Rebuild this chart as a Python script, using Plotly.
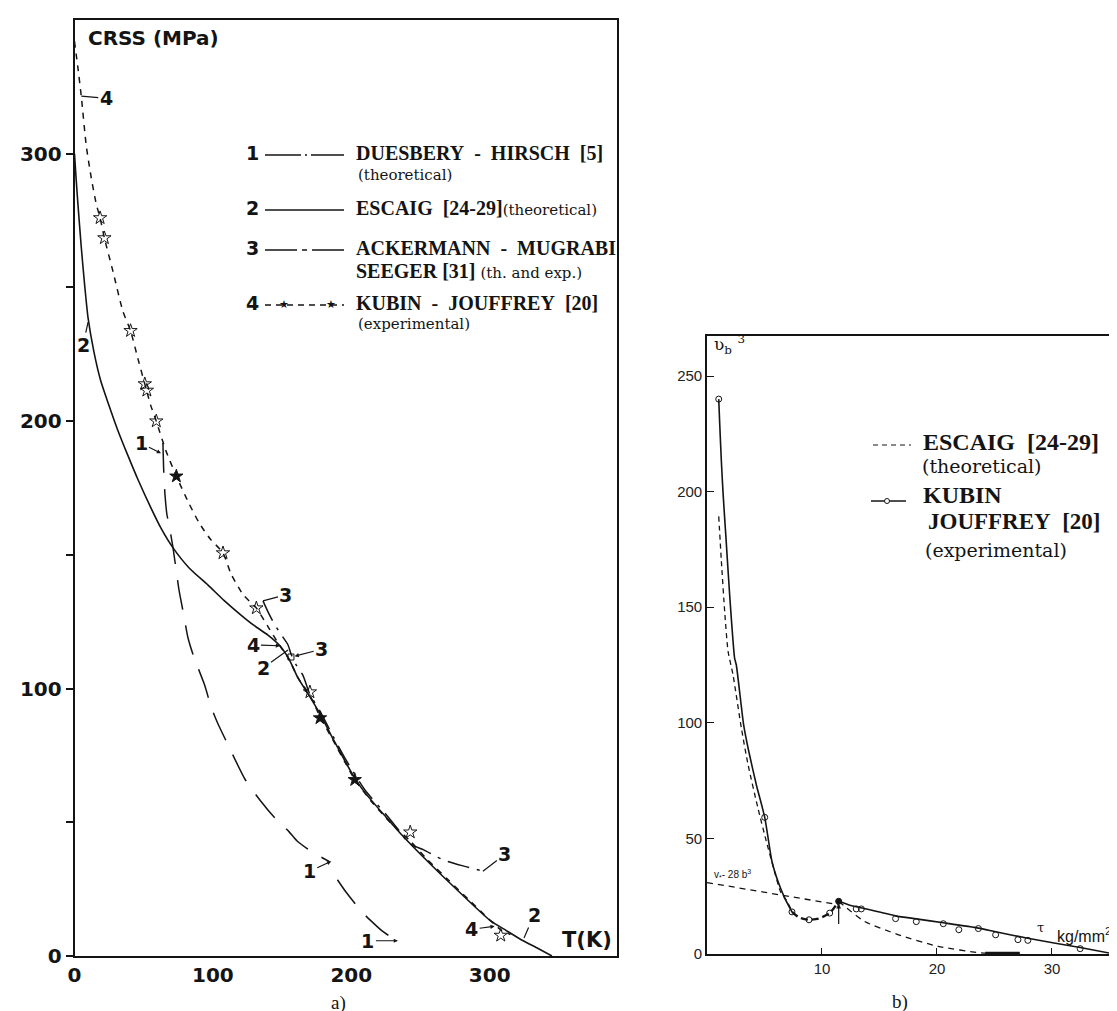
import plotly.graph_objects as go

W, H = 1117, 1011

# ---------------- panel a) data : CRSS (MPa) vs T (K) ----------------
c1a_T = [63.9, 64.5, 65.4, 66.8, 68.3, 71.2, 75.5, 79.1, 82, 86.1, 93.9, 99, 103.4, 112, 123.4, 134.8, 145, 154.8, 161, 172, 184]
c1a_V = [191.8, 181, 172.4, 165, 161.2, 152.6, 136.9, 127.1, 119, 112, 101.5, 92.7, 87.1, 77.8, 65.9, 57.8, 51.5, 46.6, 42.9, 38.8, 35.4]
c1b_T = [190, 196, 202.4, 208, 213.3, 222, 232.7]
c1b_V = [28.5, 24, 19.8, 16.3, 13.6, 9.5, 5.7]

c2_T = [0, 1.0, 2.5, 4.9, 7.4, 9.8, 14, 19, 24.3, 31, 38.7, 46, 55.3, 63, 71.2, 83, 96.5, 108, 120.3, 130, 139.8,
        148.4, 155, 161.5, 170, 178, 187, 195.4, 202.5, 210, 225, 238.6, 252, 265, 283, 301, 312, 322.8, 335, 345]
c2_V = [300, 292, 281, 265, 250.5, 238.6, 226, 215, 206.8, 197, 187, 178, 167.5, 159.5, 152.6, 145, 138.7, 133, 127.5, 123.5, 120,
        116, 111, 104, 97, 90, 81, 73, 66.5, 61, 52, 44.1, 37, 30.4, 21.5, 13, 9.5, 6.1, 2.8, 0]

c3_T = [136.2, 140, 144, 148.5, 154.3, 156.4, 160, 165, 170, 178, 187, 195.4, 210, 225, 237.6, 240, 246, 252, 262, 269, 280, 294.5]
c3_V = [132.8, 128.5, 124.5, 120.8, 116.3, 113, 109, 105, 98, 91, 82, 74, 62, 53, 44.8, 42.8, 41, 39.8, 37, 35.5, 33.8, 31.8]

c4_T = [0, 2.5, 4.9, 8.5, 12.1, 15.8, 18.5, 21.6, 27.8, 35, 40.5, 46, 50.8, 55, 59.1, 66, 73.6, 82, 90, 98, 107.3, 113, 122,
        131.4, 140, 148.4, 155, 161.5, 170.1, 177.4, 187, 195.4, 202.5, 215, 228, 242.6, 255, 270, 285, 296, 308, 315]
c4_V = [342, 332, 321.5, 303, 291, 281, 276, 268.5, 256, 241, 233.8, 223, 213.9, 206, 200, 189, 179.4, 170, 162, 156, 150.7, 143, 135,
        130.1, 123, 116, 111, 104, 97.5, 89.5, 80.5, 72.5, 66, 57.5, 50, 43, 36, 28.5, 21, 15.5, 9.8, 8]

star_open_T = [18.5, 21.6, 40.5, 50.8, 52.3, 59.1, 107.3, 131.4, 170.1, 242.6, 308]
star_open_V = [276, 268.5, 233.8, 213.9, 211.5, 200, 150.7, 130.1, 98.7, 46.3, 7.7]
star_fill_T = [73.6, 177.4, 202.5]
star_fill_V = [179.4, 89, 65.9]
sq_T = [156.4]
sq_V = [111.8]

a_xticks = [0, 100, 200, 300]
a_yticks = [0, 50, 100, 150, 200, 250, 300]
a_yticktext = ["0", "", "100", "", "200", "", "300"]

# ---------------- panel b) data : activation volume vs tau ----------------
kub_up_x = [1.02, 1.1, 1.25, 1.4, 1.65, 1.97, 2.4, 2.55, 3.19, 3.63, 4.3, 5.02, 5.65, 6.2, 6.76, 7.39]
kub_up_y = [240, 230, 213, 199, 180, 155.4, 128, 125, 99, 87.7, 73, 59.1, 40, 31, 24.2, 18.2]
kub_lo_x = [11.45, 12.5, 13.4, 16.4, 18.2, 20.55, 23.6, 25.1, 27.9, 32.45, 35.45]
kub_lo_y = [22.8, 21.0, 20.0, 16.5, 15.2, 13.5, 11.2, 9.6, 6.8, 2.8, 0]
kub_pts_x = [1.02, 5.02, 7.39, 8.87, 10.67, 12.98, 13.42, 16.4, 18.2, 20.55, 21.9, 23.6, 25.1, 27.04, 27.9, 32.45]
kub_pts_y = [240, 59.1, 18.2, 14.8, 17.7, 19.5, 19.5, 15.3, 14.0, 13.1, 10.5, 11.0, 8.3, 6.2, 5.9, 2.3]
peak_x = [11.45]
peak_y = [22.8]

esc_up_x = [1.02, 1.25, 1.54, 1.83, 2.26, 2.99, 3.57, 4.43, 5.16, 5.8, 6.38, 6.96, 7.3]
esc_up_y = [189.3, 170, 148, 131, 120.8, 97.7, 81.9, 63.1, 48.7, 37, 27.1, 22.8, 19.5]
dip_x = [7.39, 8.0, 8.87, 9.7, 10.67, 11.45]
dip_y = [18.2, 15.8, 14.8, 15.3, 17.7, 22.8]
esc_lo_x = [11.45, 11.97, 13.7, 16.6, 20.1, 23.85, 27.5]
esc_lo_y = [22.8, 20.6, 14.1, 8.4, 3.3, 0.5, 0]
heavy_x = [24.2, 27.2]
heavy_y = [0.35, 0.35]
vstar_x = [0, 11.45]
vstar_y = [30.9, 21.3]

b_xticks = [10, 20, 30]
b_yticks = [0, 50, 100, 150, 200, 250]

INK = "#141414"
SANS_B = "DejaVu Sans"
SERIF = "Liberation Serif"

fig = go.Figure()

def line(x, y, xa, ya, dash="solid", width=1.5):
    fig.add_trace(go.Scatter(x=x, y=y, xaxis=xa, yaxis=ya, mode="lines",
                             line=dict(color=INK, width=width, dash=dash, shape="spline", smoothing=0.6),
                             hoverinfo="skip", showlegend=False))

def marks(x, y, xa, ya, symbol, size, lw=1.0):
    fig.add_trace(go.Scatter(x=x, y=y, xaxis=xa, yaxis=ya, mode="markers",
                             marker=dict(symbol=symbol, size=size, color=INK,
                                         line=dict(color=INK, width=lw)),
                             hoverinfo="skip", showlegend=False))

# panel a curves
line(c1a_T, c1a_V, "x", "y", dash="30px,16px")
line(c1b_T, c1b_V, "x", "y", dash="30px,16px")
line(c2_T, c2_V, "x", "y", width=1.6)
line(c3_T, c3_V, "x", "y", dash="22px,8px,3px,8px")
line(c4_T, c4_V, "x", "y", dash="6px,6px")
marks(star_open_T, star_open_V, "x", "y", "star-open", 10)
marks(star_fill_T, star_fill_V, "x", "y", "star", 10)
marks(sq_T, sq_V, "x", "y", "square-open", 6)

# panel b curves
line(kub_up_x, kub_up_y, "x2", "y2", width=1.6)
line(kub_lo_x, kub_lo_y, "x2", "y2", width=1.6)
line(esc_up_x, esc_up_y, "x2", "y2", dash="5px,4px", width=1.3)
line(dip_x, dip_y, "x2", "y2", dash="7px,4px", width=2.4)
line(esc_lo_x, esc_lo_y, "x2", "y2", dash="6px,5px", width=1.3)
line(heavy_x, heavy_y, "x2", "y2", width=3)
line(vstar_x, vstar_y, "x2", "y2", dash="6px,5px", width=1.3)
marks(kub_pts_x, kub_pts_y, "x2", "y2", "circle-open", 6)
marks(peak_x, peak_y, "x2", "y2", "circle", 6)

# ---------------- layout ----------------
def px(xp):
    return xp / W

def py(yp):
    return 1 - yp / H

axis_common = dict(showgrid=False, zeroline=False, showline=True, linecolor=INK, linewidth=1.6,
                   automargin=False, tickcolor=INK)

fig.update_layout(
    width=W, height=H, margin=dict(l=0, r=0, t=0, b=0),
    paper_bgcolor="white", plot_bgcolor="white", template="none", showlegend=False,
    xaxis=dict(domain=[px(66.5), px(609)], range=[0, 392], anchor="y", mirror=True,
               tickvals=a_xticks, ticks="", tickfont=dict(family=SANS_B, size=20, color=INK, weight="bold"),
               **axis_common),
    yaxis=dict(domain=[py(948), py(12)], range=[0, 350], anchor="x", mirror=True,
               tickvals=a_yticks, ticktext=a_yticktext, ticks="outside", ticklen=7, tickwidth=1.5,
               tickfont=dict(family=SANS_B, size=20, color=INK, weight="bold"), **axis_common),
    xaxis2=dict(domain=[px(699), 1.0], range=[0, 36.35], anchor="y2", mirror=True,
                tickvals=b_xticks, ticks="inside", ticklen=6, tickwidth=1.2,
                tickfont=dict(family="Liberation Sans", size=15, color="#222"), **axis_common),
    yaxis2=dict(domain=[py(946), py(328)], range=[0, 267.3], anchor="x2", mirror=False,
                tickvals=b_yticks, ticks="inside", ticklen=7, tickwidth=1.2,
                tickfont=dict(family="Liberation Sans", size=15, color="#222"), **axis_common),
)

ann = []
shapes = []

def text(x, y, t, size, family=SERIF, xanchor="center", bold=False, xref="paper", yref="paper", color=INK):
    ann.append(dict(x=x, y=y, xref=xref, yref=yref, text=t, showarrow=False, xanchor=xanchor,
                    yanchor="middle", font=dict(family=family, size=size, color=color,
                                                weight="bold" if bold else "normal")))

# titles / axis labels panel a
text(px(78), py(30), "CRSS (MPa)", 20, family=SANS_B, xanchor="left", bold=True)
text(px(579), py(932), "T(K)", 21, family=SANS_B, bold=True)
text(px(330), py(995), "a)", 19)
text(px(892), py(994), "b)", 19)

# curve number labels panel a (point in data, label offset in pixels)
curve_labels = [
    ("4", 4.9, 321.5, 25, 2, 0),
    ("2", 9.8, 237, -5, 23, 0),
    ("1", 62.5, 188, -20, -10, 2),
    ("3", 136.2, 132.8, 23, -6, 0),
    ("4", 148.5, 116, -27, -1, 2),
    ("2", 154.3, 114.4, -25, 18, 0),
    ("3", 159.1, 112.1, 27, -7, 2),
    ("1", 185.5, 35.4, -22, 10, 2),
    ("1", 233.7, 5.7, -30, 0, 2),
    ("3", 295.1, 31.7, 22, -17, 0),
    ("4", 303.6, 11.1, -23, 3, 2),
    ("2", 324.8, 6.7, 10, -23, 0),
]
for t, xx, yy, ax, ay, head in curve_labels:
    ann.append(dict(x=xx, y=yy, xref="x", yref="y", text=t, showarrow=True, ax=ax, ay=ay,
                    arrowhead=head, arrowsize=0.7, arrowwidth=1.2, arrowcolor=INK, standoff=0,
                    startstandoff=0, font=dict(family=SANS_B, size=19, color=INK, weight="bold")))

# legend panel a
rows_a = [145, 200, 240, 295]
nums = ["1", "2", "3", "4"]
dashes = ["36px,4px,2px,4px", "solid", "32px,5px,5px,5px", "6px,5px"]
for yy, n, d in zip(rows_a, nums, dashes):
    text(px(244), py(yy), n, 19, family=SANS_B, bold=True)
    shapes.append(dict(type="line", xref="paper", yref="paper", x0=px(257), x1=px(336), y0=py(yy + 2), y1=py(yy + 2),
                       line=dict(color=INK, width=1.3, dash=d)))
for sx in [276, 323]:
    text(px(sx), py(296), "★", 11, family="DejaVu Sans")

NB = "\u00a0"
small = "<span style='font-family:DejaVu Serif;font-size:15px;font-weight:normal'>%s</span>"
text(px(346), py(145), f"DUESBERY{NB} -{NB} HIRSCH{NB} [5]", 20, xanchor="left", bold=True)
text(px(348), py(167), small % "(theoretical)", 15, xanchor="left")
text(px(346), py(200), f"ESCAIG{NB} [24-29]" + small % "(theoretical)", 20, xanchor="left", bold=True)
text(px(346), py(240), f"ACKERMANN{NB} -{NB} MUGRABI", 20, xanchor="left", bold=True)
text(px(346), py(263), "SEEGER [31] " + small % "(th. and exp.)", 20, xanchor="left", bold=True)
text(px(346), py(295), f"KUBIN{NB} -{NB} JOUFFREY{NB} [20]", 20, xanchor="left", bold=True)
text(px(348), py(316), small % "(experimental)", 15, xanchor="left")

# legend panel b
shapes.append(dict(type="line", xref="paper", yref="paper", x0=px(865), x1=px(903), y0=py(437), y1=py(437),
                   line=dict(color=INK, width=1.2, dash="5px,4px")))
shapes.append(dict(type="line", xref="paper", yref="paper", x0=px(863), x1=px(898), y0=py(493), y1=py(493),
                   line=dict(color=INK, width=1.3)))
shapes.append(dict(type="circle", xref="paper", yref="paper", x0=px(876.5), x1=px(881.5), y0=py(495.5), y1=py(490.5),
                   line=dict(color=INK, width=1), fillcolor="white"))
small19 = "<span style='font-family:DejaVu Serif;font-size:19px'>%s</span>"
text(px(913), py(434), f"ESCAIG{NB} [24-29]", 24, xanchor="left", bold=True)
text(px(912), py(458), small19 % "(theoretical)", 19, xanchor="left")
text(px(913), py(487), "KUBIN", 24, xanchor="left", bold=True)
text(px(918), py(513), f"JOUFFREY{NB} [20]", 23, xanchor="left", bold=True)
text(px(915), py(542), small19 % "(experimental)", 19, xanchor="left")

# panel b labels
text(px(721), py(337), "ʋ<sub>b</sub> <sup>3</sup>", 17, family="DejaVu Serif")
text(0.45, 34.5, "v<sub>*</sub>- 28 b<sup>3</sup>", 10, family="Liberation Sans", xanchor="left", xref="x2", yref="y2")
text(29.0, 11.5, "τ", 13, family="DejaVu Serif", xref="x2", yref="y2")
text(30.3, 8.3, "kg/mm<sup>2</sup>", 16, family="Liberation Sans", xanchor="left", xref="x2", yref="y2")

# arrow at the peak in panel b
ann.append(dict(x=11.45, y=21.8, xref="x2", yref="y2", ax=11.45, ay=12.3, axref="x2", ayref="y2",
                showarrow=True, arrowhead=2, arrowsize=0.8, arrowwidth=1.2, arrowcolor=INK, text=""))

fig.update_layout(annotations=ann, shapes=shapes)
fig.write_html("out.html")
